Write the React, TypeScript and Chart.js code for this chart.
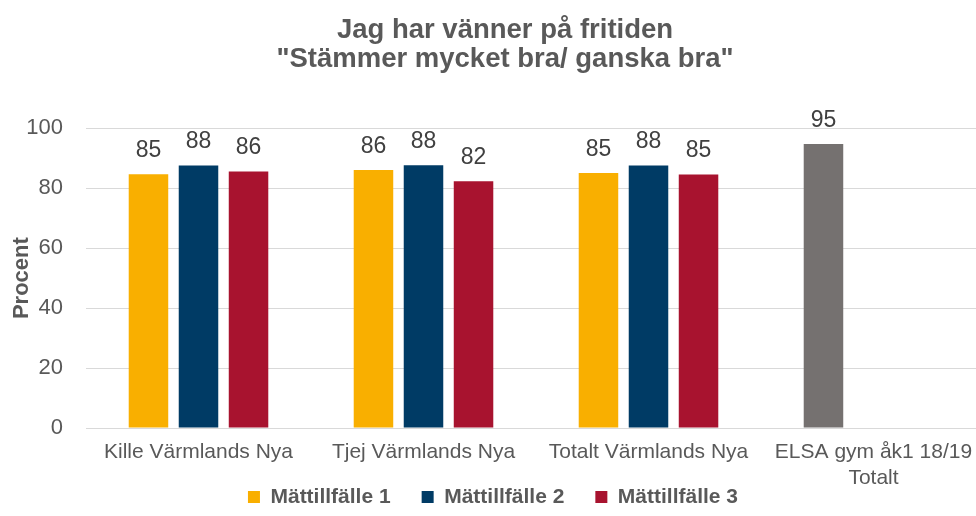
import React, { useEffect, useRef } from "react";
import { Chart, registerables } from "chart.js";

Chart.register(...registerables);

const titleLines = ["Jag har vänner på fritiden", "\"Stämmer mycket bra/ ganska bra\""];
const categories: (string | string[])[] = [
  "Kille Värmlands Nya",
  "Tjej Värmlands Nya",
  "Totalt Värmlands Nya",
  ["ELSA gym åk1 18/19", "Totalt"],
];
const seriesNames = ["Mättillfälle 1", "Mättillfälle 2", "Mättillfälle 3"];
const matt1 = [84.7, 86.1, 85.1, 94.8];
const matt2 = [87.6, 87.7, 87.6, null];
const matt3 = [85.6, 82.3, 84.6, null];
const yAxisTitle = "Procent";
const yMin = 0;
const yMax = 100;
const yStep = 20;

const FONT = '"Liberation Sans", Arial, Helvetica, sans-serif';
const YELLOW = "#F9AF00";
const NAVY = "#003B65";
const RED = "#A8132F";
const GREY = "#757170";
const TEXT = "#595959";

const LEGEND_CENTER_Y = 497;
const TITLE_SHIFT_X = 12;
const LEGEND_PAD = 31;

const dataLabelPlugin = {
  id: "dataLabels",
  afterDatasetsDraw(chart: any) {
    const ctx = chart.ctx;
    ctx.save();
    ctx.font = `23px ${FONT}`;
    ctx.fillStyle = "#404040";
    ctx.textAlign = "center";
    ctx.textBaseline = "alphabetic";
    chart.data.datasets.forEach((ds: any, i: number) => {
      const meta = chart.getDatasetMeta(i);
      meta.data.forEach((el: any, j: number) => {
        const v = ds.data[j];
        if (v == null) return;
        ctx.fillText(String(Math.round(v)), el.x, el.y - 17);
      });
    });
    ctx.restore();
  },
};

// legend is laid out at the top (to keep the plot area free) and moved under the axis labels
const placementPlugin = {
  id: "placement",
  afterLayout(chart: any) {
    const lg = chart.legend;
    if (lg) {
      const pad = lg.options.labels.padding;
      const fs = lg.options.labels.font.size;
      const wantTop = LEGEND_CENTER_Y - pad - fs / 2;
      const d = wantTop - lg.top;
      lg.top += d;
      lg.bottom += d;
    }
    const tb = chart.titleBlock;
    if (tb) {
      tb.left += TITLE_SHIFT_X;
      tb.right += TITLE_SHIFT_X;
    }
  },
};

export default function App() {
  const ref = useRef<HTMLCanvasElement | null>(null);
  useEffect(() => {
    if (!ref.current) return;
    Chart.defaults.font.family = FONT;
    const chart = new Chart(ref.current, {
      type: "bar",
      data: {
        labels: categories,
        datasets: [
          {
            label: seriesNames[0],
            data: matt1,
            backgroundColor: (c: any) => (c.dataIndex === 3 ? GREY : YELLOW),
            categoryPercentage: 0.667,
            barPercentage: 0.79,
          },
          {
            label: seriesNames[1],
            data: matt2,
            backgroundColor: NAVY,
            categoryPercentage: 0.667,
            barPercentage: 0.79,
          },
          {
            label: seriesNames[2],
            data: matt3,
            backgroundColor: RED,
            categoryPercentage: 0.667,
            barPercentage: 0.79,
          },
        ],
      },
      options: {
        animation: false,
        responsive: true,
        maintainAspectRatio: false,
        layout: { padding: { left: 0, right: 4, top: 0, bottom: 0 } },
        plugins: {
          title: {
            display: true,
            text: titleLines,
            color: TEXT,
            font: { size: 27.5, weight: "bold", family: FONT, lineHeight: 1.06 },
            padding: { top: 16, bottom: 23 - LEGEND_PAD },
          },
          legend: {
            position: "top",
            labels: {
              boxWidth: 12,
              boxHeight: 12,
              color: TEXT,
              padding: LEGEND_PAD,
              font: { size: 21, weight: "bold", family: FONT },
            },
          },
          tooltip: { enabled: false },
        },
        scales: {
          x: {
            grid: { display: false },
            border: { display: false },
            ticks: { color: TEXT, font: { size: 21, family: FONT }, padding: 4, maxRotation: 0, autoSkip: false },
            afterFit: (s: any) => {
              s.height = 88;
            },
          },
          y: {
            min: yMin,
            max: yMax,
            ticks: { stepSize: yStep, color: TEXT, font: { size: 22, family: FONT }, padding: 23 },
            grid: { color: "#D9D9D9", lineWidth: 1, drawTicks: false },
            border: { display: false },
            title: {
              display: true,
              text: yAxisTitle,
              color: TEXT,
              font: { size: 22, weight: "bold", family: FONT },
              padding: { top: 9, bottom: 0 },
            },
            afterFit: (s: any) => {
              s.width = 86;
            },
          },
        },
      },
      plugins: [dataLabelPlugin, placementPlugin],
    } as any);
    return () => chart.destroy();
  }, []);
  return (
    <div style={{ position: "absolute", left: 0, top: 0, width: 976, height: 516, overflow: "hidden", background: "#fff" }}>
      <div style={{ position: "relative", width: 990, height: 516 }}>
        <canvas ref={ref} />
      </div>
    </div>
  );
}
